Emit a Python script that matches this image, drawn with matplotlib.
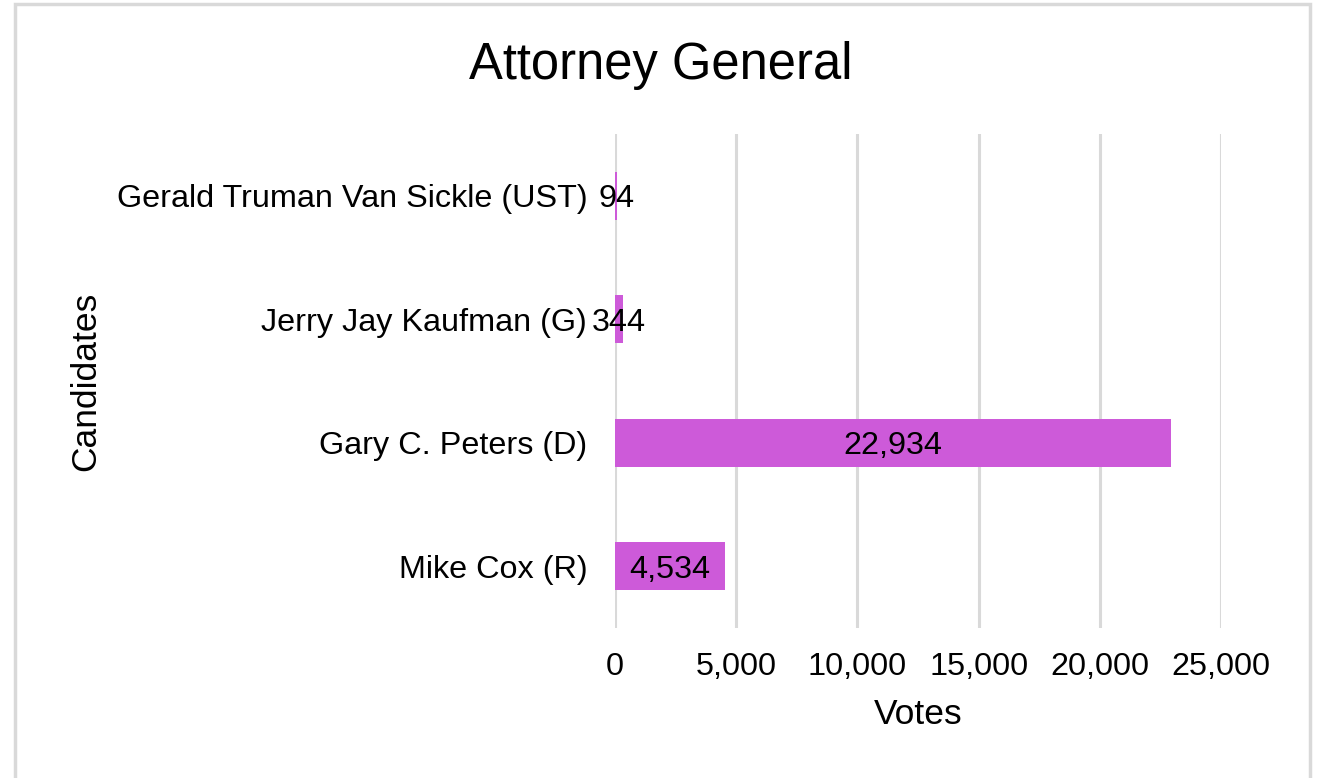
import matplotlib.pyplot as plt
from matplotlib.patches import Rectangle
from matplotlib.ticker import FuncFormatter

candidates = ['Mike Cox (R)', 'Gary C. Peters (D)', 'Jerry Jay Kaufman (G)',
              'Gerald Truman Van Sickle (UST)']
votes = [4534, 22934, 344, 94]
xticks = [0, 5000, 10000, 15000, 20000, 25000]

plt.rcParams['font.family'] = ['Liberation Sans', 'DejaVu Sans']

fig = plt.figure(figsize=(13.19, 7.78), dpi=100)
ax = fig.add_axes([615/1319, 1-628/778, (1221-615)/1319, (628-134)/778])

y = range(len(candidates))
ax.barh(y, votes, height=0.39, color='#CD5AD9', zorder=3)
for i, v in enumerate(votes):
    ax.text(v/2, i, f'{v:,}', ha='center', va='center_baseline',
            fontsize=23.3, zorder=4)

ax.set_xlim(0, 25000)
ax.set_ylim(-0.5, 3.5)
ax.set_xticks(xticks)
ax.xaxis.set_major_formatter(FuncFormatter(lambda v, p: f'{int(v):,}'))
ax.set_yticks(list(y))
ax.set_yticklabels(candidates)
ax.tick_params(axis='both', length=0, labelsize=23.3)
ax.tick_params(axis='x', pad=17)
ax.tick_params(axis='y', pad=20)
ax.grid(axis='x', color='#D9D9D9', linewidth=2.2, zorder=0)
for s in ax.spines.values():
    s.set_visible(False)

ax.set_xlabel('Votes', fontsize=25.5, labelpad=12)
ax.set_ylabel('Candidates', fontsize=25.5, labelpad=10)
fig.text(661/1319, 1-66/778, 'Attorney General', fontsize=36.5,
         ha='center', va='center')

fig.patches.append(Rectangle((15/1319, -0.05), (1310-15)/1319, 1.05-4/778,
                             transform=fig.transFigure, fill=False,
                             edgecolor='#D9D9D9', linewidth=2.5))

fig.savefig('out.png', dpi=100)
